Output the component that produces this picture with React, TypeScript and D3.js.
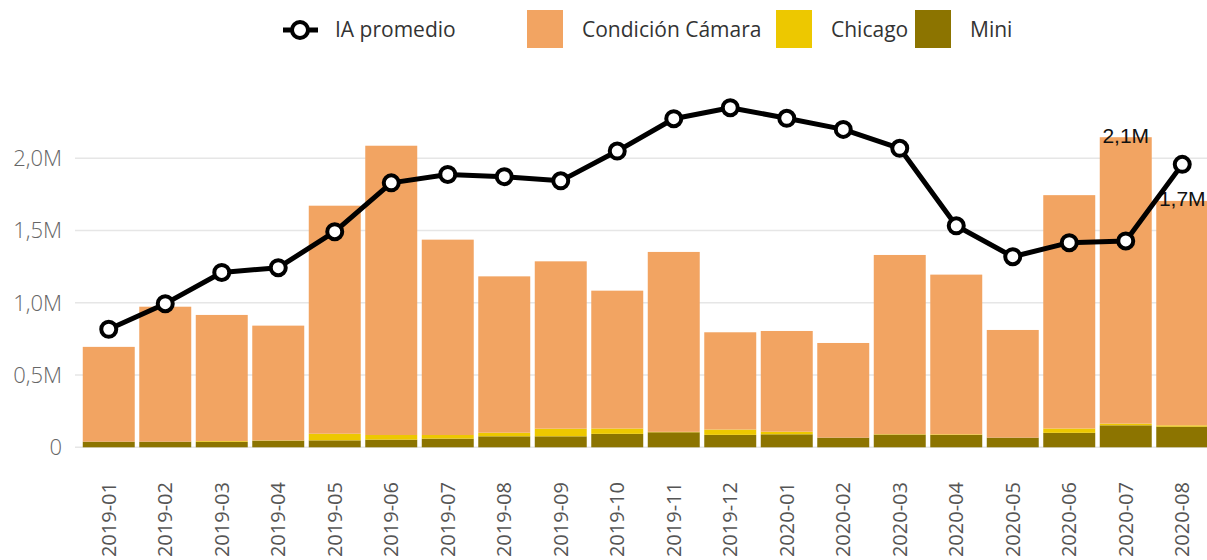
import React from 'react';
import * as d3 from 'd3';

// values in millions
const months = ['2019-01', '2019-02', '2019-03', '2019-04', '2019-05', '2019-06', '2019-07', '2019-08', '2019-09', '2019-10',
    '2019-11', '2019-12', '2020-01', '2020-02', '2020-03', '2020-04', '2020-05', '2020-06', '2020-07', '2020-08']
const totals = [0.695, 0.973, 0.916, 0.842, 1.672, 2.087, 1.437, 1.183, 1.287, 1.084,
    1.352, 0.796, 0.805, 0.722, 1.331, 1.195, 0.812, 1.745, 2.146, 1.705]
const mini = [0.039, 0.039, 0.038, 0.046, 0.048, 0.053, 0.06, 0.076, 0.076, 0.093,
    0.104, 0.086, 0.09, 0.067, 0.088, 0.086, 0.067, 0.1, 0.152, 0.143]
const chicago = [0, 0, 0.005, 0.002, 0.046, 0.032, 0.025, 0.025, 0.053, 0.037,
    0.003, 0.037, 0.018, 0, 0.003, 0.004, 0, 0.03, 0.012, 0.009]
const iaPromedio = [0.817, 0.994, 1.21, 1.243, 1.492, 1.83, 1.888, 1.873, 1.844, 2.05,
    2.274, 2.35, 2.277, 2.2, 2.069, 1.533, 1.319, 1.416, 1.428, 1.958]
const yTicks = [0, 0.5, 1, 1.5, 2]
const labelled = ['2020-07', '2020-08']

const colors = {camara: '#F2A462', chicago: '#EDC800', mini: '#8C7400'}

const App = () => {

    const width = 1207
    const height = 560

    const xScale = d3.scaleBand()
        .domain(months)
        .range([80.5, 1210.5])
        .paddingInner(0.08)
        .paddingOuter(0.04)

    const yScale = d3.scaleLinear()
        .domain([0, 1])
        .range([447.3, 302.8])

    const rows = months.map((m, i) => ({
        month: m,
        mini: mini[i],
        chicago: chicago[i],
        camara: totals[i] - mini[i] - chicago[i],
    }))

    const stack = d3.stack().keys(['mini', 'chicago', 'camara'])
    const series = stack(rows)

    const cx = m => xScale(m) + xScale.bandwidth() / 2

    const line = d3.line()
        .x((d, i) => cx(months[i]))
        .y(d => yScale(d))

    const fmt = v => d3.format('.1f')(v).replace('.', ',') + 'M'

    const axisFont = "'Open Sans', sans-serif"

    const legendItems = [
        {label: 'Condición Cámara', color: colors.camara, x: 527},
        {label: 'Chicago', color: colors.chicago, x: 776},
        {label: 'Mini', color: colors.mini, x: 915},
    ]

    return (
        <div style={{position: 'absolute', left: 0, top: 0}}>
            <svg width={width} height={height} style={{display: 'block', background: '#fff'}}>
                {/* legend */}
                <g fontFamily={axisFont} fontSize='21px' fill='#333'>
                    <line x1={283} x2={318} y1={30} y2={30} stroke='#000' strokeWidth={5}/>
                    <circle cx={300} cy={30} r={8} fill='#fff' stroke='#000' strokeWidth={4}/>
                    <text x={335} y={30} dy='0.35em'>IA promedio</text>
                    {legendItems.map(d => (
                        <g key={d.label}>
                            <rect x={d.x} y={10} width={36} height={38} fill={d.color}/>
                            <text x={d.x + 55} y={30} dy='0.35em'>{d.label}</text>
                        </g>
                    ))}
                </g>

                {/* gridlines + y labels */}
                <g>
                    {yTicks.map(t => (
                        <g key={t}>
                            <line x1={75} x2={width} y1={yScale(t)} y2={yScale(t)} stroke='#e6e6e6' strokeWidth={1.5}/>
                            <text x={62} y={yScale(t)} dy='0.35em' textAnchor='end' fontFamily={axisFont}
                                fontWeight={300} fontSize='22px' fill='#666'>
                                {t === 0 ? '0' : fmt(t)}
                            </text>
                        </g>
                    ))}
                </g>

                {/* stacked bars */}
                <g>
                    {series.map(s => (
                        <g key={s.key} fill={colors[s.key]}>
                            {s.map((d, i) => (
                                <rect key={i}
                                    x={xScale(months[i])}
                                    y={yScale(d[1])}
                                    width={xScale.bandwidth()}
                                    height={Math.max(0, yScale(d[0]) - yScale(d[1]))}/>
                            ))}
                        </g>
                    ))}
                </g>

                {/* bar total labels */}
                <g fontFamily="'Liberation Sans', Arial, sans-serif" fontSize='21px' fill='#111' textAnchor='middle'>
                    {labelled.map(m => {
                        const i = months.indexOf(m)
                        return (
                            <text key={m} x={cx(m)} y={yScale(totals[i]) - 2} dy='0.35em'>{fmt(totals[i])}</text>
                        )
                    })}
                </g>

                {/* line */}
                <path d={line(iaPromedio)} fill='none' stroke='#000' strokeWidth={5} strokeLinejoin='round'/>
                {iaPromedio.map((v, i) => (
                    <circle key={i} cx={cx(months[i])} cy={yScale(v)} r={7.5} fill='#fff' stroke='#000' strokeWidth={4}/>
                ))}

                {/* x labels */}
                <g fontFamily={axisFont} fontSize='20px' fill='#555'>
                    {months.map(m => (
                        <text key={m} transform={`translate(${cx(m)},482) rotate(-90)`} textAnchor='end' dy='0.35em'>{m}</text>
                    ))}
                </g>
            </svg>
        </div>
    );
}

export default App;
